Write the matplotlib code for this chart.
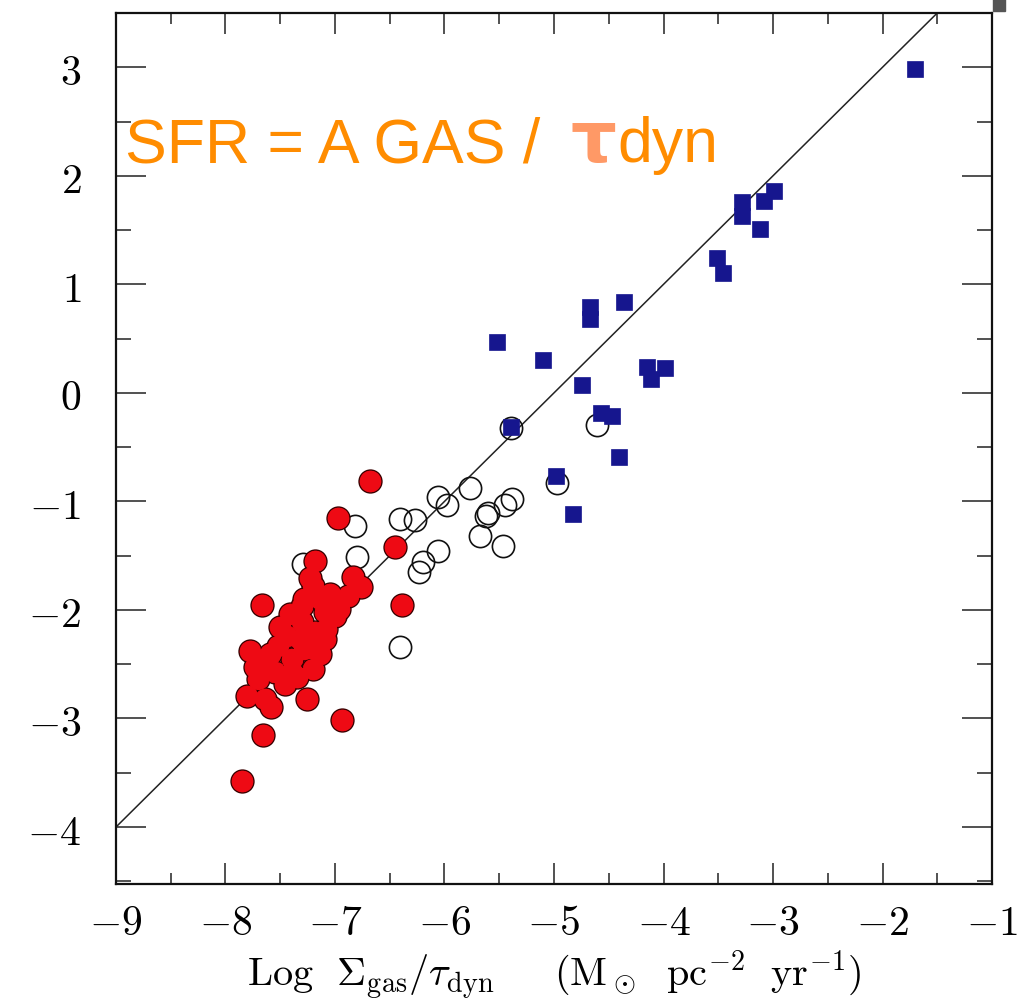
import numpy as np
import matplotlib.pyplot as plt
from matplotlib.patches import Rectangle
from matplotlib.ticker import MultipleLocator, FuncFormatter

plt.rcParams['mathtext.fontset'] = 'cm'

# квадраты: галактики со вспышкой звездообразования
sq_x = [-2.99, -3.08, -3.28, -3.28, -3.12, -3.51, -3.46, -4.36, -4.67, -4.67,
        -5.52, -5.10, -4.15, -3.99, -4.11, -4.74, -4.57, -4.47, -5.39, -4.41,
        -4.98, -4.83, -1.70]
sq_y = [1.86, 1.77, 1.76, 1.63, 1.51, 1.24, 1.10, 0.84, 0.79, 0.68,
        0.47, 0.30, 0.24, 0.23, 0.13, 0.07, -0.19, -0.21, -0.31, -0.59,
        -0.77, -1.12, 2.98]

# пустые кружки: центральные области дисков
oc_x = [-5.39, -4.61, -4.97, -5.77, -6.06, -5.98, -6.41, -6.27, -5.38, -5.45,
        -5.62, -5.60, -5.68, -5.47, -6.06, -6.20, -6.23, -6.82, -6.80, -6.41,
        -7.29]
oc_y = [-0.32, -0.30, -0.83, -0.88, -0.96, -1.03, -1.16, -1.17, -0.98, -1.03,
        -1.13, -1.11, -1.32, -1.41, -1.46, -1.56, -1.65, -1.23, -1.51, -2.34,
        -1.58]

# красные кружки: нормальные спиральные галактики
rc_x = [-6.68, -6.97, -6.45, -6.39, -7.67, -7.18, -6.84, -6.76, -7.20, -7.14,
        -6.88, -7.30, -7.00, -7.09, -7.30, -7.44, -7.18, -7.09, -7.78, -7.52,
        -7.28, -7.64, -7.39, -7.20, -7.70, -7.55, -7.39, -7.80, -7.64, -7.58,
        -7.26, -6.94, -7.66, -7.85, -7.08, -7.23,
        -7.41, -7.50, -7.32, -7.59, -7.46, -7.14, -6.96, -7.05, -7.28, -7.73,
        -7.35, -7.22]
rc_y = [-0.81, -1.15, -1.42, -1.95, -1.95, -1.55, -1.70, -1.79, -1.78, -1.90,
        -1.87, -1.96, -2.06, -2.02, -2.11, -2.24, -2.20, -2.27, -2.38, -2.33,
        -2.36, -2.48, -2.45, -2.54, -2.64, -2.57, -2.57, -2.79, -2.82, -2.89,
        -2.82, -3.01, -3.15, -3.58, -2.18, -1.71,
        -2.04, -2.16, -2.27, -2.41, -2.68, -2.41, -1.99, -1.85, -1.90, -2.53,
        -2.62, -2.35]

# линия SFR ~ Sigma_gas / tau_dyn
fit_x = np.array([-9.0, -1.0])
fit_y = fit_x + 5.0

fig = plt.figure(figsize=(10.18, 10.03), dpi=100)
ax = fig.add_axes([116 / 1018, 118 / 1003, 876 / 1018, 871 / 1003])

ax.plot(fit_x, fit_y, color='#222222', lw=1.1, zorder=1)
ax.plot(oc_x, oc_y, 'o', ms=16, mfc='none', mec='#111111', mew=1.2, zorder=2)
# сначала контуры, потом заливка поверх - кружки сливаются в одно пятно
ax.plot(rc_x, rc_y, 'o', ms=16.5, mfc='#ee0a14', mec='#3a0000', mew=1.0, zorder=3)
ax.plot(rc_x, rc_y, 'o', ms=15.3, mfc='#ee0a14', mec='none', zorder=3.1)
ax.plot(sq_x, sq_y, 's', ms=11.5, mfc='#16168e', mec='#16168e', mew=0.5, zorder=4)

ax.set_xlim(-9, -1)
ax.set_ylim(-4.525, 3.5)

ax.xaxis.set_major_locator(MultipleLocator(1))
ax.xaxis.set_minor_locator(MultipleLocator(0.5))
ax.yaxis.set_major_locator(MultipleLocator(1))
ax.yaxis.set_minor_locator(MultipleLocator(0.5))
fmt = FuncFormatter(lambda v, p: r'$%d$' % round(v))
ax.xaxis.set_major_formatter(fmt)
ax.yaxis.set_major_formatter(fmt)

ax.tick_params(axis='both', which='both', direction='in', top=True, right=True,
               width=1.1, color='#222222', labelsize=30)
ax.tick_params(axis='x', which='major', length=15, pad=12)
ax.tick_params(axis='x', which='minor', length=8)
ax.tick_params(axis='y', which='major', length=21.6, pad=25)
ax.tick_params(axis='y', which='minor', length=10.8)
for s in ax.spines.values():
    s.set_linewidth(1.6)
    s.set_color('#111111')

ax.set_xlabel(r'$\mathrm{Log}\ \ \Sigma_{\rm gas}/\tau_{\rm dyn}\quad\ \ '
              r'(\mathrm{M}_\odot\ \ \mathrm{pc}^{-2}\ \ \mathrm{yr}^{-1})$',
              fontsize=29, labelpad=3)

# надпись с формулой
orange = '#ff8c00'
t1 = ax.text(0.010, 0.830, 'SFR = A GAS /', transform=ax.transAxes, va='baseline',
             ha='left', fontsize=45, color=orange, family='Liberation Sans')
fig.canvas.draw()
bb = t1.get_window_extent()
x_tau = ax.transAxes.inverted().transform((bb.x1 + 30, bb.y0))[0]
t2 = ax.text(x_tau, 0.830, 'τ', transform=ax.transAxes, va='baseline', ha='left',
             fontsize=52, color='#ff9966', family='DejaVu Sans', weight='bold')
fig.canvas.draw()
bb2 = t2.get_window_extent()
x_dyn = ax.transAxes.inverted().transform((bb2.x1 + 1, bb2.y0))[0]
ax.text(x_dyn, 0.830, 'dyn', transform=ax.transAxes, va='baseline', ha='left',
        fontsize=45, color=orange, family='Liberation Sans')

fig.patches.append(Rectangle((993 / 1018, 991 / 1003), 12 / 1018, 12 / 1003,
                             transform=fig.transFigure, color='#555555'))

fig.savefig('out.png', dpi=100)
